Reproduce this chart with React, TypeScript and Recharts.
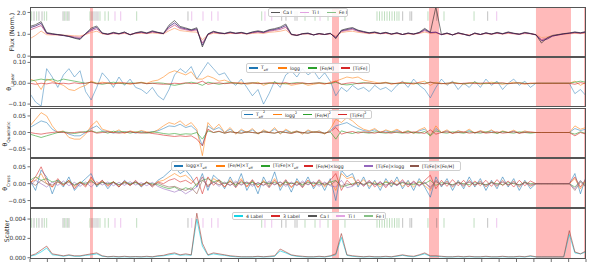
import React from 'react';
import { LineChart, Line, XAxis, YAxis, ReferenceArea, ReferenceLine } from 'recharts';

const FONT = '"DejaVu Sans", sans-serif';

// pixel grid along the stitched spectrum
const wave = Array.from({ length: 101 }, (_, i) => i * 80);
const xTicks = Array.from({ length: 33 }, (_, i) => i * 250);

// masked (bad pixel) windows
const masked: [number, number][] = [
  [863, 906], [4345, 4446], [5741, 5885], [7280, 7784], [7971, 8000],
];

// line list positions
const caI = [58, 129, 173, 475, 518, 561, 892, 921, 950, 978, 2273, 3621, 3683, 3813, 3842, 5362, 5467, 5492, 5852, 6585];
const tiI = [1223, 1305, 2327, 2489, 2614, 2705, 3381, 3478, 4173, 6715];
const feI = [24, 96, 206, 240, 494, 542, 863, 1007, 1079, 1127, 1535, 3334, 3957, 4101, 4288, 4532, 4993, 5029, 5065, 5101, 5137, 5173, 5209, 5245, 5280, 5309, 5726, 5957, 6389];

// normalised flux, several reference spectra
const fluxGray = [
  1.36, 1.44, 1.58, 1.08, 1.03, 0.99, 0.96, 0.9, 0.82, 0.76,
  1.04, 1.28, 1.38, 1.06, 1.01, 1.09, 1.03, 1.11, 0.97, 1.07,
  1.13, 1.06, 1.16, 1.09, 1.04, 1.42, 1.63, 1.36, 1.29, 1.21,
  1.3, 0.42, 1.02, 1.14, 1.07, 1.04, 1.11, 1.05, 1.09, 1.03,
  1.11, 1.16, 1.11, 1.21, 1.26, 1.33, 1.47, 1.01, 0.94, 1.03,
  1.06, 0.97, 1.04, 0.99, 1.05, 0.8, 1.19, 1.26, 1.31, 1.19,
  1.13, 1.07, 1.11, 1.04, 1.09, 1.01, 1.07, 0.99, 1.06, 1.01,
  1.09, 1.27, 1.09, 2.25, 0.99, 1.06, 0.97, 1.07, 1.01, 0.93,
  1.06, 0.99, 1.07, 1.01, 1.09, 1.03, 1.11, 1.05, 1.01, 1.09,
  1.04, 0.98, 0.6, 0.84, 0.95, 0.99, 1.03, 1.06, 1.11, 1.07,
  1.13,
];
const fluxPurple = [
  1.3, 1.38, 1.5, 1.05, 1.01, 0.98, 0.94, 0.9, 0.84, 0.8,
  1.02, 1.22, 1.32, 1.05, 1.0, 1.07, 1.02, 1.09, 0.98, 1.06,
  1.1, 1.05, 1.13, 1.08, 1.03, 1.35, 1.52, 1.31, 1.25, 1.19,
  1.25, 0.5, 1.0, 1.12, 1.06, 1.03, 1.09, 1.04, 1.08, 1.02,
  1.09, 1.13, 1.09, 1.18, 1.22, 1.28, 1.4, 0.99, 0.95, 1.02,
  1.04, 0.97, 1.03, 0.99, 1.04, 0.84, 1.16, 1.22, 1.27, 1.17,
  1.11, 1.06, 1.09, 1.03, 1.08, 1.01, 1.06, 0.99, 1.05, 1.01,
  1.07, 1.22, 1.08, 1.1, 0.98, 1.05, 0.97, 1.06, 1.0, 0.94,
  1.05, 0.99, 1.06, 1.01, 1.07, 1.02, 1.09, 1.04, 1.0, 1.07,
  1.03, 0.97, 0.7, 0.78, 0.92, 0.97, 1.02, 1.05, 1.09, 1.06,
  1.1,
];
const fluxRed = [
  1.2, 1.3, 1.4, 1.04, 1.0, 0.98, 0.95, 0.92, 0.88, 0.86,
  1.01, 1.16, 1.25, 1.04, 1.0, 1.05, 1.02, 1.07, 0.99, 1.05,
  1.08, 1.04, 1.1, 1.07, 1.03, 1.27, 1.42, 1.26, 1.21, 1.16,
  1.2, 0.6, 0.99, 1.09, 1.05, 1.03, 1.07, 1.04, 1.06, 1.02,
  1.07, 1.1, 1.07, 1.14, 1.18, 1.22, 1.32, 0.99, 0.96, 1.02,
  1.03, 0.98, 1.02, 0.99, 1.03, 0.88, 1.13, 1.18, 1.22, 1.14,
  1.09, 1.05, 1.08, 1.03, 1.06, 1.01, 1.05, 0.99, 1.04, 1.01,
  1.06, 1.17, 1.06, 1.08, 0.99, 1.04, 0.98, 1.05, 1.0, 0.95,
  1.04, 0.99, 1.05, 1.01, 1.06, 1.02, 1.07, 1.03, 1.0, 1.06,
  1.03, 0.98, 0.76, 0.82, 0.92, 0.97, 1.01, 1.04, 1.07, 1.05,
  1.08,
];
const fluxOrange = [
  0.8, 0.95, 1.15, 0.98, 0.97, 0.97, 0.96, 0.95, 0.93, 0.92,
  0.99, 1.08, 1.14, 1.02, 0.99, 1.03, 1.01, 1.04, 0.99, 1.03,
  1.05, 1.03, 1.06, 1.04, 1.02, 1.16, 1.28, 1.17, 1.14, 1.11,
  1.1, 0.75, 0.97, 1.05, 1.03, 1.02, 1.04, 1.03, 1.04, 1.01,
  1.04, 1.06, 1.04, 1.09, 1.11, 1.14, 1.2, 0.98, 0.96, 1.01,
  1.02, 0.98, 1.01, 0.99, 1.02, 0.92, 1.08, 1.12, 1.14, 1.09,
  1.06, 1.03, 1.05, 1.02, 1.04, 1.0, 1.03, 0.99, 1.02, 1.0,
  1.04, 1.1, 1.04, 1.05, 0.99, 1.02, 0.98, 1.03, 1.0, 0.97,
  1.02, 0.99, 1.03, 1.0, 1.04, 1.01, 1.04, 1.02, 1.0, 1.03,
  1.02, 0.99, 0.85, 0.88, 0.94, 0.97, 1.0, 1.02, 1.04, 1.03,
  1.05,
];

// linear coefficients
const linTeff = [
  -0.05, -0.09, -0.11, 0.07, 0.03, -0.02, 0.04, 0.07, 0.03, 0.06,
  -0.04, -0.08, -0.02, 0.05, 0.02, -0.02, 0.03, -0.01, 0.02, -0.02,
  -0.03, -0.05, -0.02, -0.06, -0.08, -0.03, 0.04, 0.07, 0.05, 0.08,
  0.02, 0.06, 0.1, 0.07, 0.04, 0.05, 0.01, -0.01, 0.02, -0.02,
  -0.06, -0.03, -0.1, -0.05, 0.01, -0.02, 0.04, 0.06, 0.03, 0.07,
  0.04, 0.06, 0.02, 0.05, 0.01, -0.06, -0.02, -0.04, -0.01, -0.03,
  -0.02, -0.04, -0.01, -0.03, -0.02, -0.04, -0.01, 0.01, -0.02, 0.02,
  -0.01, -0.03, -0.07, -0.02, 0.02, -0.01, 0.01, -0.03, 0.0, -0.02,
  0.01, -0.02, 0.02, -0.01, 0.01, -0.03, 0.0, 0.02, -0.01, 0.01,
  -0.02, 0.0, 0.0, 0.0, 0.0, 0.0, 0.0, 0.0, -0.05, -0.03,
  -0.06,
];
const linLogg = [
  0.02, 0.01, -0.03, 0.02, 0.01, 0.0, -0.01, -0.03, -0.035, -0.02,
  -0.01, 0.01, 0.0, 0.005, 0.0, -0.005, 0.005, 0.0, -0.005, 0.0,
  0.005, 0.0, 0.01, 0.015, 0.03, 0.05, 0.06, 0.05, 0.04, 0.055,
  0.02, 0.02, 0.035, 0.025, 0.01, 0.015, 0.005, 0.0, 0.005, -0.005,
  0.0, 0.005, -0.01, 0.0, 0.005, -0.005, 0.0, -0.01, -0.005, 0.0,
  -0.01, -0.005, 0.0, -0.005, 0.005, 0.01, 0.02, 0.03, 0.025, 0.03,
  0.015, 0.01, 0.005, 0.0, 0.005, -0.005, 0.0, 0.005, 0.0, -0.005,
  0.005, 0.01, -0.01, 0.005, 0.0, -0.005, 0.005, 0.0, -0.005, 0.0,
  0.005, -0.005, 0.0, 0.005, 0.0, -0.005, 0.0, 0.005, 0.0, -0.005,
  0.0, 0.0, 0.0, 0.0, 0.0, 0.0, 0.0, 0.0, 0.01, -0.01,
  0.005,
];
const linFeH = [
  0.01, 0.015, 0.02, 0.015, 0.02, 0.01, 0.02, 0.015, 0.01, 0.005,
  0.0, 0.005, 0.0, -0.005, 0.0, 0.005, 0.0, -0.003, 0.002, 0.0,
  0.003, -0.002, 0.0, 0.002, 0.0, -0.005, -0.01, -0.005, 0.0, 0.005,
  0.0, -0.01, 0.005, 0.0, -0.005, 0.0, 0.003, 0.0, -0.003, 0.0,
  0.002, 0.0, -0.002, 0.0, 0.002, 0.0, -0.003, 0.0, 0.003, 0.0,
  -0.002, 0.0, 0.002, 0.0, -0.002, 0.005, -0.005, -0.008, -0.005, 0.0,
  0.003, 0.0, -0.002, 0.0, 0.002, 0.0, -0.002, 0.0, 0.002, 0.0,
  -0.003, 0.0, 0.005, 0.0, -0.002, 0.0, 0.002, 0.0, -0.002, 0.0,
  0.002, 0.0, -0.002, 0.0, 0.002, 0.0, -0.002, 0.0, 0.002, 0.0,
  -0.002, 0.0, 0.0, 0.0, 0.0, 0.0, 0.0, 0.0, 0.005, 0.01,
  0.005,
];
const linTiFe = [
  0.0, -0.005, 0.0, -0.003, 0.002, -0.002, 0.0, -0.003, 0.002, -0.002,
  0.0, 0.005, -0.003, 0.0, 0.002, -0.002, 0.0, 0.002, -0.002, 0.0,
  0.002, -0.002, 0.0, -0.003, -0.005, -0.003, 0.0, -0.002, 0.002, -0.002,
  0.0, 0.01, -0.005, 0.0, 0.002, -0.002, 0.0, 0.002, -0.002, 0.0,
  0.002, -0.002, 0.0, 0.002, -0.002, 0.0, 0.003, -0.003, 0.0, 0.002,
  -0.002, 0.0, 0.002, -0.002, 0.0, 0.01, -0.005, 0.0, 0.003, -0.002,
  0.0, 0.002, -0.002, 0.0, 0.002, -0.002, 0.0, 0.002, -0.002, 0.0,
  0.002, -0.003, 0.005, 0.0, -0.002, 0.0, 0.002, -0.002, 0.0, 0.002,
  -0.002, 0.0, 0.002, -0.002, 0.0, 0.002, -0.002, 0.0, 0.002, -0.002,
  0.0, 0.0, 0.0, 0.0, 0.0, 0.0, 0.0, 0.0, -0.005, 0.003,
  -0.002,
];

// quadratic coefficients
const quadTeff = [
  0.015, 0.025, 0.035, 0.03, 0.01, 0.0, 0.003, -0.005, -0.01, -0.01,
  0.0, 0.012, 0.02, 0.005, 0.003, -0.002, 0.004, 0.0, 0.003, -0.002,
  0.004, 0.0, 0.002, 0.005, 0.012, 0.02, 0.018, 0.025, 0.015, 0.02,
  0.005, -0.04, 0.02, 0.008, 0.015, 0.0, 0.01, -0.003, 0.006, 0.0,
  0.008, -0.004, 0.005, 0.0, 0.01, -0.003, 0.006, 0.0, 0.004, -0.003,
  0.005, 0.0, 0.004, -0.003, 0.006, 0.02, 0.025, 0.03, 0.02, 0.012,
  0.006, 0.003, 0.008, 0.0, 0.005, 0.0, 0.006, 0.0, 0.004, -0.002,
  0.005, 0.01, -0.008, 0.012, 0.0, 0.005, -0.002, 0.004, 0.0, 0.006,
  -0.002, 0.004, 0.0, 0.005, -0.002, 0.003, 0.0, 0.004, -0.002, 0.003,
  0.0, 0.0, 0.0, 0.0, 0.0, 0.0, 0.0, 0.0, 0.012, 0.006,
  0.01,
];
const quadLogg = [
  0.02, 0.04, 0.06, 0.05, 0.02, 0.0, 0.005, -0.015, -0.02, -0.02,
  -0.005, 0.02, 0.035, 0.01, 0.005, 0.0, 0.008, -0.003, 0.005, 0.0,
  0.006, 0.002, 0.0, 0.008, 0.02, 0.03, 0.025, 0.035, 0.02, 0.03,
  0.01, -0.07, 0.03, 0.01, 0.025, 0.0, 0.015, -0.005, 0.01, 0.0,
  0.012, -0.005, 0.008, 0.0, 0.015, -0.005, 0.01, 0.0, 0.005, -0.005,
  0.008, 0.0, 0.005, -0.005, 0.01, 0.04, 0.03, 0.045, 0.035, 0.02,
  0.01, 0.005, 0.012, 0.0, 0.008, 0.002, 0.01, 0.0, 0.006, -0.003,
  0.008, 0.015, -0.01, 0.02, 0.0, 0.008, -0.003, 0.006, 0.0, 0.01,
  -0.002, 0.006, 0.0, 0.008, -0.003, 0.005, 0.0, 0.007, -0.002, 0.005,
  0.0, 0.0, 0.0, 0.0, 0.0, 0.0, 0.0, 0.0, 0.02, 0.01,
  0.015,
];
const quadFeH = [
  -0.005, -0.01, -0.015, -0.01, -0.005, 0.0, 0.002, 0.0, -0.003, 0.0,
  0.003, 0.005, 0.0, 0.003, -0.002, 0.004, 0.0, 0.003, -0.002, 0.002,
  0.0, -0.002, 0.002, 0.0, -0.003, -0.005, -0.003, -0.006, -0.004, -0.005,
  0.0, -0.02, 0.005, 0.0, 0.003, -0.002, 0.002, 0.0, -0.002, 0.002,
  0.0, -0.002, 0.002, 0.0, -0.002, 0.002, 0.0, -0.002, 0.002, 0.0,
  -0.002, 0.002, 0.0, -0.002, 0.002, -0.02, 0.005, 0.0, -0.003, 0.002,
  0.0, -0.002, 0.002, 0.0, -0.002, 0.002, 0.0, -0.002, 0.002, 0.0,
  -0.002, 0.003, -0.01, 0.005, 0.0, -0.002, 0.002, 0.0, -0.002, 0.002,
  0.0, -0.002, 0.002, 0.0, -0.002, 0.002, 0.0, -0.002, 0.002, 0.0,
  -0.002, 0.0, 0.0, 0.0, 0.0, 0.0, 0.0, 0.0, -0.005, 0.002,
  -0.003,
];
const quadTiFe = [
  0.0, -0.003, -0.005, -0.002, 0.0, 0.002, 0.0, -0.002, 0.0, 0.002,
  0.0, 0.004, -0.002, 0.0, 0.002, 0.0, -0.002, 0.0, 0.002, 0.0,
  -0.002, 0.0, -0.003, -0.005, -0.008, -0.01, -0.012, -0.01, -0.012, -0.01,
  -0.02, -0.04, 0.01, 0.0, 0.004, -0.002, 0.002, 0.0, -0.002, 0.002,
  0.0, -0.002, 0.002, 0.0, -0.002, 0.003, 0.0, -0.003, 0.002, 0.0,
  -0.002, 0.002, 0.0, -0.002, 0.002, 0.015, -0.005, 0.0, 0.003, -0.002,
  0.002, 0.0, -0.002, 0.002, 0.0, -0.002, 0.002, 0.0, -0.002, 0.002,
  0.0, -0.003, 0.008, -0.005, 0.0, 0.002, -0.002, 0.0, 0.002, -0.002,
  0.0, 0.002, -0.002, 0.0, 0.002, -0.002, 0.0, 0.002, -0.002, 0.0,
  0.002, 0.0, 0.0, 0.0, 0.0, 0.0, 0.0, 0.0, -0.01, 0.0,
  -0.005,
];

// cross terms
const crossLoggTeff = [
  0.01, -0.02, 0.04, 0.02, -0.03, 0.01, -0.01, 0.02, -0.02, 0.0,
  0.015, 0.03, -0.01, 0.01, -0.015, 0.005, -0.01, 0.01, -0.005, 0.008,
  -0.01, 0.005, -0.008, 0.01, 0.02, 0.035, 0.05, 0.03, 0.04, 0.02,
  -0.01, 0.03, -0.02, 0.025, 0.01, -0.015, 0.02, -0.01, 0.03, -0.02,
  0.01, -0.03, 0.02, -0.01, 0.035, -0.02, 0.01, -0.025, 0.015, -0.01,
  0.02, -0.015, 0.01, -0.02, 0.015, -0.05, 0.04, 0.02, 0.03, -0.01,
  0.02, -0.015, 0.01, -0.02, 0.015, -0.01, 0.02, -0.015, 0.01, -0.02,
  0.015, -0.01, -0.04, 0.02, -0.01, 0.015, -0.02, 0.01, -0.015, 0.02,
  -0.01, 0.015, -0.02, 0.01, -0.015, 0.02, -0.01, 0.015, -0.02, 0.01,
  -0.015, 0.0, 0.0, 0.0, 0.0, 0.0, 0.0, 0.0, 0.03, -0.03,
  0.02,
];
const crossFeHTeff = [
  0.005, 0.01, 0.03, 0.0, -0.01, 0.005, -0.005, 0.01, -0.01, 0.005,
  -0.005, 0.015, 0.0, 0.008, -0.005, 0.005, -0.008, 0.006, -0.004, 0.005,
  -0.006, 0.004, -0.005, 0.006, 0.01, 0.02, 0.03, 0.02, 0.025, 0.01,
  -0.005, 0.02, -0.01, 0.015, 0.005, -0.01, 0.012, -0.006, 0.015, -0.01,
  0.008, -0.012, 0.01, -0.006, 0.015, -0.01, 0.006, -0.012, 0.008, -0.006,
  0.01, -0.008, 0.006, -0.01, 0.008, -0.02, 0.03, 0.015, 0.02, -0.005,
  0.012, -0.008, 0.006, -0.01, 0.008, -0.006, 0.01, -0.008, 0.006, -0.01,
  0.008, -0.006, -0.02, 0.01, -0.006, 0.008, -0.01, 0.006, -0.008, 0.01,
  -0.006, 0.008, -0.01, 0.006, -0.008, 0.01, -0.006, 0.008, -0.01, 0.006,
  -0.008, 0.0, 0.0, 0.0, 0.0, 0.0, 0.0, 0.0, 0.015, -0.015,
  0.01,
];
const crossTiFeTeff = [
  0.01, 0.02, 0.01, 0.015, 0.005, 0.01, 0.0, 0.008, -0.004, 0.005,
  0.0, 0.01, -0.005, 0.004, 0.0, 0.005, -0.003, 0.004, 0.0, 0.003,
  -0.004, 0.003, 0.0, -0.003, -0.01, -0.015, -0.01, -0.02, -0.012, -0.018,
  0.0, 0.01, 0.015, 0.005, 0.01, 0.0, 0.006, -0.004, 0.005, 0.0,
  0.004, -0.003, 0.005, 0.0, 0.004, -0.004, 0.005, 0.0, 0.003, -0.003,
  0.004, 0.0, 0.003, -0.003, 0.004, 0.01, -0.01, -0.005, 0.0, 0.004,
  -0.003, 0.003, 0.0, -0.003, 0.004, 0.0, -0.003, 0.003, 0.0, -0.003,
  0.004, 0.0, 0.01, -0.005, 0.003, 0.0, -0.003, 0.003, 0.0, -0.003,
  0.003, 0.0, -0.003, 0.003, 0.0, -0.003, 0.003, 0.0, -0.003, 0.003,
  0.0, 0.0, 0.0, 0.0, 0.0, 0.0, 0.0, 0.0, -0.01, 0.008,
  -0.005,
];
const crossFeHLogg = [
  0.0, 0.02, 0.05, 0.01, -0.01, 0.015, -0.005, 0.01, -0.015, 0.005,
  -0.01, 0.02, -0.005, 0.01, -0.008, 0.006, -0.01, 0.008, -0.006, 0.01,
  -0.008, 0.006, -0.01, 0.005, 0.0, 0.01, 0.015, 0.005, 0.01, 0.0,
  0.02, -0.03, 0.02, -0.005, 0.012, -0.01, 0.008, -0.012, 0.01, -0.008,
  0.012, -0.01, 0.006, -0.012, 0.01, -0.008, 0.012, -0.01, 0.006, -0.012,
  0.01, -0.008, 0.012, -0.006, 0.01, 0.03, -0.02, 0.01, -0.005, 0.012,
  -0.008, 0.01, -0.01, 0.006, -0.012, 0.01, -0.006, 0.012, -0.01, 0.008,
  -0.006, 0.01, 0.025, -0.015, 0.01, -0.008, 0.012, -0.006, 0.01, -0.01,
  0.008, -0.006, 0.01, -0.008, 0.012, -0.006, 0.008, -0.01, 0.01, -0.006,
  0.008, 0.0, 0.0, 0.0, 0.0, 0.0, 0.0, 0.0, 0.02, -0.01,
  0.015,
];
const crossTiFeLogg = [
  -0.005, 0.01, 0.0, -0.01, 0.005, -0.005, 0.008, -0.006, 0.004, -0.008,
  0.005, -0.01, 0.006, -0.004, 0.005, -0.006, 0.004, -0.005, 0.006, -0.004,
  0.003, -0.006, 0.004, -0.008, -0.015, -0.02, -0.025, -0.018, -0.03, -0.02,
  -0.01, 0.02, -0.01, 0.006, -0.008, 0.005, -0.006, 0.008, -0.005, 0.006,
  -0.008, 0.004, -0.006, 0.008, -0.004, 0.006, -0.008, 0.005, -0.006, 0.008,
  -0.004, 0.006, -0.008, 0.005, -0.006, -0.01, 0.01, -0.012, -0.008, 0.004,
  -0.006, 0.008, -0.004, 0.006, -0.008, 0.004, -0.006, 0.008, -0.004, 0.006,
  -0.008, 0.005, -0.015, 0.01, -0.005, 0.006, -0.008, 0.004, -0.006, 0.008,
  -0.004, 0.006, -0.008, 0.004, -0.006, 0.008, -0.004, 0.006, -0.008, 0.004,
  -0.006, 0.0, 0.0, 0.0, 0.0, 0.0, 0.0, 0.0, -0.015, 0.01,
  -0.01,
];
const crossTiFeFeH = [
  0.005, -0.005, 0.01, 0.0, -0.004, 0.006, -0.002, 0.004, -0.005, 0.003,
  -0.004, 0.006, -0.003, 0.004, -0.002, 0.003, -0.004, 0.002, -0.003, 0.004,
  -0.002, 0.003, -0.004, 0.002, -0.005, -0.01, -0.008, -0.015, -0.02, -0.012,
  -0.03, 0.01, -0.005, 0.004, -0.003, 0.002, -0.004, 0.003, -0.002, 0.004,
  -0.003, 0.002, -0.004, 0.003, -0.002, 0.004, -0.003, 0.002, -0.004, 0.003,
  -0.002, 0.004, -0.003, 0.002, -0.004, 0.008, -0.006, 0.0, -0.004, 0.003,
  -0.002, 0.004, -0.003, 0.002, -0.004, 0.003, -0.002, 0.004, -0.003, 0.002,
  -0.004, 0.003, -0.01, 0.006, -0.003, 0.002, -0.004, 0.003, -0.002, 0.004,
  -0.003, 0.002, -0.004, 0.003, -0.002, 0.004, -0.003, 0.002, -0.004, 0.003,
  -0.002, 0.0, 0.0, 0.0, 0.0, 0.0, 0.0, 0.0, -0.02, 0.005,
  -0.01,
];

// model scatter
const scatter4 = [
  0.00015, 0.0003, 0.0006, 0.001, 0.0003, 0.00025, 0.00015, 0.00025, 0.00015, 0.00015,
  0.00025, 0.0003, 0.0004, 0.00015, 0.0001, 0.0001, 0.00008, 0.0001, 0.00008, 0.0001,
  0.00008, 0.0001, 0.00008, 0.00015, 0.0002, 0.0003, 0.0004, 0.00025, 0.0003, 0.00025,
  0.004, 0.0012, 0.00025, 0.0004, 0.0003, 0.00025, 0.00015, 0.0001, 0.00008, 0.00008,
  0.00008, 0.0001, 0.00008, 0.0001, 0.00015, 0.0007, 0.0005, 0.00025, 0.00015, 0.0001,
  0.00008, 0.00008, 0.0001, 0.00008, 0.00015, 0.0003, 0.0021, 0.00025, 0.00015, 0.0001,
  0.00008, 0.0001, 0.00008, 0.00008, 0.0001, 0.00008, 0.00015, 0.00025, 0.00015, 0.0001,
  0.00025, 0.0004, 0.00015, 0.00015, 0.0001, 0.00008, 0.00008, 0.0001, 0.00008, 0.0001,
  0.00008, 0.00008, 0.0001, 0.00008, 0.00008, 0.0001, 0.00008, 0.00008, 0.0001, 0.00008,
  0.00015, 0.00008, 0.00008, 0.00008, 0.00008, 0.00008, 0.00008, 0.0024, 0.0005, 0.0004,
  0.0006,
];
const scatter3 = [
  0.0002, 0.0004, 0.0008, 0.0012, 0.0004, 0.0003, 0.0002, 0.0003, 0.0002, 0.0002,
  0.0003, 0.0004, 0.0005, 0.0002, 0.0001, 0.00015, 0.0001, 0.00015, 0.0001, 0.00012,
  0.0001, 0.00015, 0.0001, 0.0002, 0.00025, 0.0004, 0.0005, 0.0003, 0.0004, 0.0003,
  0.0046, 0.0015, 0.0003, 0.0005, 0.0004, 0.0003, 0.0002, 0.00015, 0.0001, 0.0001,
  0.0001, 0.00015, 0.0001, 0.00015, 0.0002, 0.0009, 0.0006, 0.0003, 0.0002, 0.00015,
  0.0001, 0.0001, 0.00015, 0.0001, 0.0002, 0.0004, 0.0025, 0.0003, 0.0002, 0.00015,
  0.0001, 0.00015, 0.0001, 0.0001, 0.00015, 0.0001, 0.0002, 0.0003, 0.0002, 0.00015,
  0.0003, 0.0005, 0.0002, 0.0002, 0.00015, 0.0001, 0.0001, 0.00015, 0.0001, 0.00015,
  0.0001, 0.0001, 0.00015, 0.0001, 0.0001, 0.00015, 0.0001, 0.0001, 0.00015, 0.0001,
  0.0002, 0.0001, 0.0001, 0.0001, 0.0001, 0.0001, 0.0001, 0.0028, 0.0006, 0.0004,
  0.0007,
];

const table = (cols: Record<string, number[]>) =>
  wave.map((x, i) => {
    const r: Record<string, number> = { x };
    Object.keys(cols).forEach(k => { r[k] = cols[k][i]; });
    return r;
  });

const fluxRows = table({ gray: fluxGray, purple: fluxPurple, red: fluxRed, orange: fluxOrange });
const linRows = table({ teff: linTeff, logg: linLogg, feh: linFeH, tife: linTiFe });
const quadRows = table({ teff: quadTeff, logg: quadLogg, feh: quadFeH, tife: quadTiFe });
const crossRows = table({
  lt: crossLoggTeff, ft: crossFeHTeff, tt: crossTiFeTeff,
  fl: crossFeHLogg, tl: crossTiFeLogg, tf: crossTiFeFeH,
});
const scatterRows = table({ s4: scatter4, s3: scatter3 });

const C = {
  blue: '#1f77b4', orange: '#ff7f0e', green: '#2ca02c', red: '#d62728',
  purple: '#9467bd', brown: '#8c564b', cyan: '#17d4e6',
  ca: '#555555', ti: '#e2a3e2', fe: '#86c086',
};

const minus = (v: number, d: number) => (v < 0 ? '\u2212' : '') + Math.abs(v).toFixed(d);

const PAD = 5;
const W = 598;

const line = (key: string, color: string, width = 0.8, opacity = 0.75) => (
  <Line key={key} type="linear" dataKey={key} stroke={color} strokeWidth={width}
    strokeOpacity={opacity} dot={false} activeDot={false} isAnimationActive={false} />
);

const shading = (lo: number, hi: number) => masked.map(([a, b], i) => (
  <ReferenceArea key={'m' + i} x1={a} x2={b} y1={lo} y2={hi} fill="#ff0000" fillOpacity={0.27} stroke="none" ifOverflow="hidden" />
));

const markers = (y1: number, y2: number) => [
  ...feI.map((x, i) => <ReferenceLine key={'fe' + i} segment={[{ x, y: y1 }, { x, y: y2 }]} stroke={C.fe} strokeOpacity={0.65} strokeWidth={0.8} />),
  ...tiI.map((x, i) => <ReferenceLine key={'ti' + i} segment={[{ x, y: y1 }, { x, y: y2 }]} stroke={C.ti} strokeOpacity={0.8} strokeWidth={0.8} />),
  ...caI.map((x, i) => <ReferenceLine key={'ca' + i} segment={[{ x, y: y1 }, { x, y: y2 }]} stroke={C.ca} strokeOpacity={0.45} strokeWidth={0.8} />),
];

interface PanelProps {
  top: number;
  bottom: number;
  domain: [number, number];
  ticks: number[];
  fmt: (v: number) => string;
  data: Record<string, number>[];
  withX?: boolean;
  children: React.ReactNode;
}

const Panel = ({ top, bottom, domain, ticks, fmt, data, withX, children }: PanelProps) => {
  const h = bottom - top;
  const xH = withX ? 4 : 0;
  const bottomPad = withX ? 0 : PAD;
  return (
    <div style={{ position: 'absolute', left: 0, top: top - PAD }}>
      <LineChart width={W} height={h + PAD + xH + bottomPad} data={data}
        margin={{ top: PAD, right: 12, bottom: bottomPad, left: 0 }}>
        <XAxis dataKey="x" type="number" domain={[0, 8000]} ticks={xTicks} hide={!withX}
          height={xH} allowDataOverflow axisLine={false} tickSize={3}
          tickLine={{ stroke: '#333', strokeWidth: 0.7 }} tickFormatter={() => ''} />
        <YAxis width={30} domain={domain} ticks={ticks} allowDataOverflow axisLine={false}
          tickSize={2.5} tickMargin={1.5} tickLine={{ stroke: '#333', strokeWidth: 0.7 }}
          tick={{ fontSize: 5.8, fill: '#333', fontFamily: FONT }} tickFormatter={fmt} />
        {children}
      </LineChart>
      <div style={{
        position: 'absolute', left: 30, top: PAD, width: 556, height: h,
        border: '1px solid #555', boxSizing: 'border-box', pointerEvents: 'none',
      }} />
    </div>
  );
};

interface Item { label: React.ReactNode; color: string; x: number }

const LegendBox = ({ left, top, width, height, items }: { left: number; top: number; width: number; height: number; items: Item[] }) => (
  <div style={{
    position: 'absolute', left, top, width, height, background: 'rgba(255,255,255,0.85)',
    border: '0.6px solid #cfcfcf', borderRadius: 2, boxSizing: 'border-box',
    fontFamily: FONT, fontSize: 4.6, color: '#222',
  }}>
    {items.map((it, i) => (
      <div key={i} style={{
        position: 'absolute', left: it.x, top: 0, height: '100%',
        display: 'flex', alignItems: 'center', whiteSpace: 'nowrap',
      }}>
        <span style={{ display: 'inline-block', width: 9, height: 1.1, background: it.color, marginRight: 3 }} />
        <span>{it.label}</span>
      </div>
    ))}
  </div>
);

const YTitle = ({ x, y, children }: { x: number; y: number; children: React.ReactNode }) => (
  <div style={{
    position: 'absolute', left: x, top: y, transform: 'translate(-50%, -50%) rotate(-90deg)',
    fontFamily: FONT, fontSize: 6.2, color: '#222', whiteSpace: 'nowrap',
  }}>{children}</div>
);

const Teff = () => <span>T<sub style={{ fontSize: '70%' }}>eff</sub></span>;
const Theta = ({ s }: { s: string }) => <span>θ<sub style={{ fontSize: '70%' }}>{s}</sub></span>;

const App = () => (
  <div style={{ position: 'absolute', left: 0, top: 0, width: W, height: 262, background: '#fff', overflow: 'hidden' }}>
    <Panel top={7} bottom={57} domain={[-0.04, 2.25]} ticks={[0, 0.5, 1, 1.5, 2]} fmt={v => v.toFixed(1)} data={fluxRows}>
      {shading(-0.04, 2.25)}
      {markers(1.62, 2.05)}
      {line('orange', '#fca06e', 0.9, 0.8)}
      {line('red', '#c13a76', 0.9, 0.75)}
      {line('purple', '#3b0f70', 0.9, 0.8)}
      {line('gray', '#2a2a2a', 0.9, 0.7)}
    </Panel>
    <Panel top={57} bottom={107} domain={[-0.114, 0.126]} ticks={[-0.1, -0.05, 0, 0.05, 0.1]} fmt={v => minus(v, 2)} data={linRows}>
      {shading(-0.114, 0.126)}
      {line('teff', C.blue, 0.8, 0.6)}
      {line('logg', C.orange, 0.8, 0.7)}
      {line('feh', C.green, 0.8, 0.75)}
      {line('tife', C.red, 0.8, 0.75)}
    </Panel>
    <Panel top={108} bottom={158} domain={[-0.077, 0.074]} ticks={[-0.05, 0, 0.05]} fmt={v => minus(v, 2)} data={quadRows}>
      {shading(-0.077, 0.074)}
      {line('teff', C.blue, 0.8, 0.65)}
      {line('logg', C.orange, 0.8, 0.7)}
      {line('feh', C.green, 0.8, 0.75)}
      {line('tife', C.red, 0.8, 0.75)}
    </Panel>
    <Panel top={158} bottom={208} domain={[-0.072, 0.076]} ticks={[-0.05, 0, 0.05]} fmt={v => minus(v, 2)} data={crossRows}>
      {shading(-0.072, 0.076)}
      {line('lt', C.blue, 0.8, 0.7)}
      {line('ft', C.orange, 0.8, 0.7)}
      {line('tt', C.green, 0.8, 0.7)}
      {line('fl', C.red, 0.8, 0.7)}
      {line('tl', C.purple, 0.8, 0.7)}
      {line('tf', C.brown, 0.8, 0.7)}
    </Panel>
    <Panel top={208} bottom={259} domain={[-0.00013, 0.00514]} ticks={[0, 0.002, 0.004]} fmt={v => v.toFixed(3)} data={scatterRows} withX>
      {shading(-0.00013, 0.00514)}
      {markers(0.0031, 0.0041)}
      {line('s4', C.cyan, 0.8, 0.85)}
      {line('s3', '#a8473f', 0.8, 0.8)}
    </Panel>

    <YTitle x={11} y={32}>Flux (Norm.)</YTitle>
    <YTitle x={10} y={82}><Theta s="Linear" /></YTitle>
    <YTitle x={6} y={134}><Theta s="Quadratic" /></YTitle>
    <YTitle x={6} y={183}><Theta s="Cross" /></YTitle>
    <YTitle x={6} y={231}>Scatter</YTitle>

    <LegendBox left={268} top={8} width={80} height={9} items={[
      { label: 'Ca I', color: C.ca, x: 2 },
      { label: 'Ti I', color: C.ti, x: 31 },
      { label: 'Fe I', color: C.fe, x: 58 },
    ]} />
    <LegendBox left={246} top={63} width={124} height={10} items={[
      { label: <Teff />, color: C.blue, x: 2 },
      { label: 'logg', color: C.orange, x: 31 },
      { label: '[Fe/H]', color: C.green, x: 61 },
      { label: '[Ti/Fe]', color: C.red, x: 94 },
    ]} />
    <LegendBox left={241} top={110} width={131} height={9} items={[
      { label: <span><Teff /><sup style={{ fontSize: '70%' }}>2</sup></span>, color: C.blue, x: 2 },
      { label: <span>logg<sup style={{ fontSize: '70%' }}>2</sup></span>, color: C.orange, x: 31 },
      { label: <span>[Fe/H]<sup style={{ fontSize: '70%' }}>2</sup></span>, color: C.green, x: 61 },
      { label: <span>[Ti/Fe]<sup style={{ fontSize: '70%' }}>2</sup></span>, color: C.red, x: 96 },
    ]} />
    <LegendBox left={171} top={161} width={290} height={10} items={[
      { label: <span>logg×<Teff /></span>, color: C.blue, x: 2 },
      { label: <span>[Fe/H]×<Teff /></span>, color: C.orange, x: 44 },
      { label: <span>[Ti/Fe]×<Teff /></span>, color: C.green, x: 89 },
      { label: '[Fe/H]×logg', color: C.red, x: 132 },
      { label: '[Ti/Fe]×logg', color: C.purple, x: 192 },
      { label: '[Ti/Fe]×[Fe/H]', color: C.brown, x: 238 },
    ]} />
    <LegendBox left={232} top={212} width={154} height={8} items={[
      { label: '4 Label', color: C.cyan, x: 1 },
      { label: '3 Label', color: C.red, x: 38 },
      { label: 'Ca I', color: C.ca, x: 75 },
      { label: 'Ti I', color: C.ti, x: 103 },
      { label: 'Fe I', color: C.fe, x: 131 },
    ]} />
  </div>
);

export default App;
